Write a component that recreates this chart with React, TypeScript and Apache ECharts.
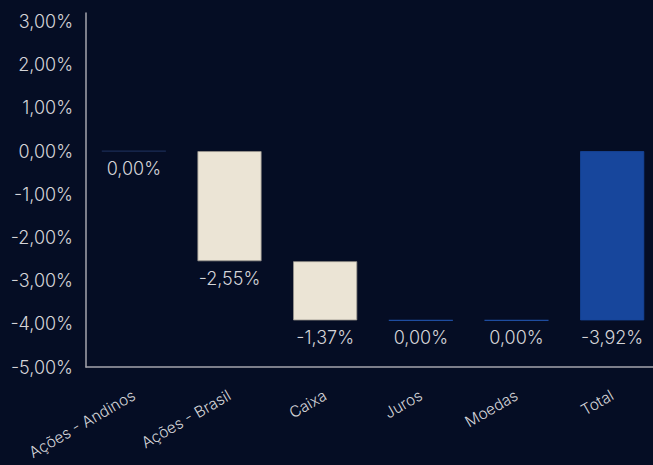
import React, { useEffect, useRef } from "react";
import * as echarts from "echarts";

const categories = ["Ações - Andinos", "Ações - Brasil", "Caixa", "Juros", "Moedas", "Total"];
const baseValues = [0, 0, -2.55, -3.92, -3.92, 0];
const deltaValues = [0, -2.55, -1.37, 0, 0, -3.92];
const yTicks = [-5, -4, -3, -2, -1, 0, 1, 2, 3];

const fmt = (v: number) => v.toFixed(2).replace(".", ",") + "%";

export default function App() {
  const ref = useRef<HTMLDivElement>(null);
  useEffect(() => {
    document.body.style.margin = "0";
    document.body.style.background = "#050d24";
    const chart = echarts.init(ref.current!, null, { renderer: "svg" });
    const font = "Inter";
    const colors = ["#1b2c55", "#ebe4d5", "#ebe4d5", "#1e4c9f", "#1e4c9f", "#17469c"];
    chart.setOption({
      animation: false,
      backgroundColor: "#050d24",
      grid: { left: 86, right: 0, top: 13, bottom: 98, containLabel: false, outerBoundsMode: "none" },
      xAxis: {
        type: "category",
        data: categories,
        axisLine: { show: true, onZero: false, lineStyle: { color: "#a4a4ac", width: 1.5 } },
        axisTick: { show: false },
        axisLabel: {
          rotate: 30,
          interval: 0,
          margin: 27,
          color: "#d4d4d8",
          fontSize: 15.5,
          fontFamily: font,
          fontWeight: 300,
        },
      },
      yAxis: {
        type: "value",
        min: -5,
        max: 3.2,
        interval: 1,
        axisLine: { show: true, lineStyle: { color: "#a4a4ac", width: 1.5 } },
        axisTick: { show: false },
        splitLine: { show: false },
        axisLabel: {
          margin: 13,
          color: "#d4d4d8",
          fontSize: 18,
          fontFamily: font,
          fontWeight: 300,
          formatter: (v: number) => (yTicks.some((t) => Math.abs(t - v) < 1e-9) ? fmt(v) : ""),
        },
      },
      series: [
        {
          type: "bar",
          stack: "w",
          stackStrategy: "all",
          data: baseValues,
          barWidth: "67%",
          itemStyle: { color: "transparent" },
          emphasis: { disabled: true },
          silent: true,
        },
        {
          type: "bar",
          stack: "w",
          stackStrategy: "all",
          barWidth: "67%",
          data: deltaValues.map((v, i) => ({
            value: v,
            itemStyle: {
              color: colors[i],
              borderColor: v === 0 ? colors[i] : i === 5 ? colors[i] : "#9a968e",
              borderWidth: v === 0 ? 1.2 : 0.8,
            },
          })),
          label: {
            show: true,
            position: "bottom",
            distance: 8,
            color: "#d4d4d8",
            fontSize: 18,
            fontFamily: font,
            fontWeight: 300,
            formatter: (p: any) => fmt(p.value),
          },
        },
      ],
    });
    return () => chart.dispose();
  }, []);
  return (
    <div style={{ position: "fixed", left: 0, top: 0, width: 653, height: 465, overflow: "hidden" }}>
      <div ref={ref} style={{ width: 660, height: 465 }} />
    </div>
  );
}
